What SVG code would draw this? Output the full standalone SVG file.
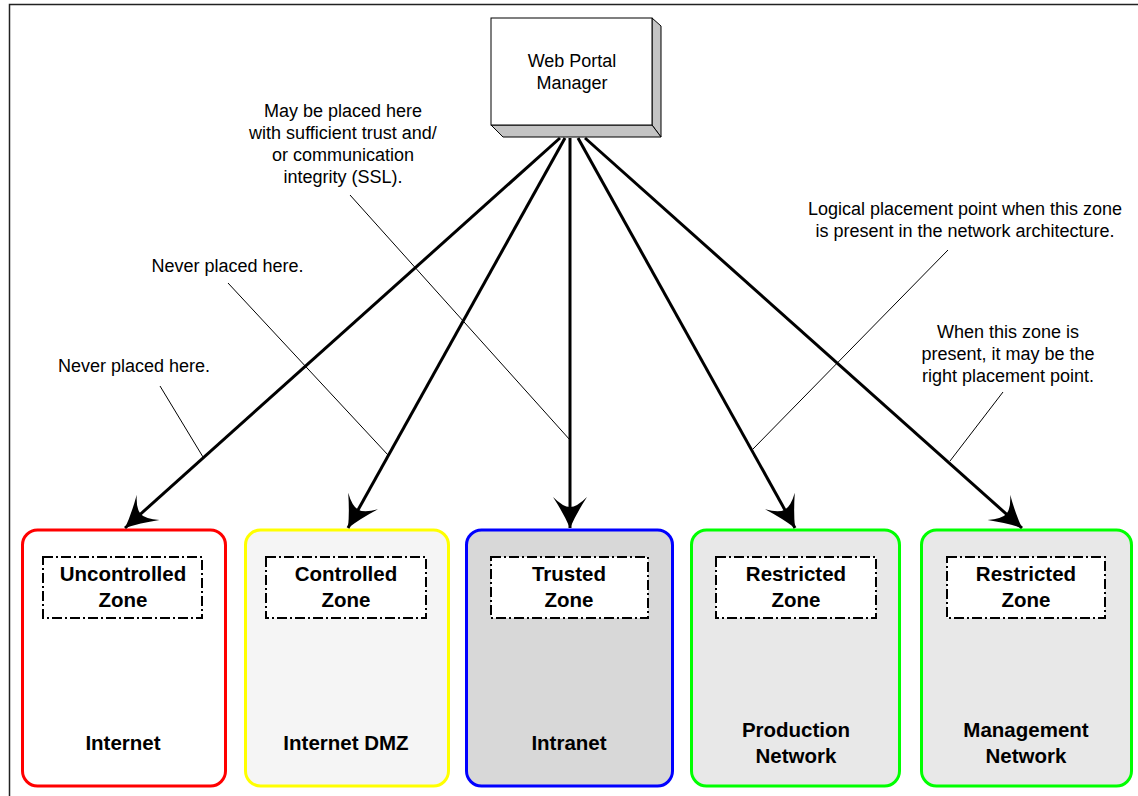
<svg xmlns="http://www.w3.org/2000/svg" width="1138" height="796" viewBox="0 0 1138 796">
  <style>
    text { font-family: "Liberation Sans", Arial, Helvetica, sans-serif; fill: #000; }
    .note { font-size: 18px; text-anchor: middle; }
    .label { font-size: 20.5px; font-weight: bold; text-anchor: middle; }
    .zone { stroke-width: 3; }
    .tag { fill: #fff; stroke: #000; stroke-width: 2; stroke-dasharray: 10 3 2 3; }
    .link { stroke: #000; stroke-width: 3; fill: none; marker-end: url(#barb); }
    .callout { stroke: #000; stroke-width: 1; fill: none; }
  </style>
  <defs>
    <marker id="barb" markerUnits="userSpaceOnUse" markerWidth="40" markerHeight="40" viewBox="-34 -20 38 40" refX="0" refY="0" orient="auto">
      <path d="M0,0 Q-14,-6 -31,-17 Q-21,-7 -21,0 Q-21,7 -31,17 Q-14,6 0,0 Z" fill="#000"/>
    </marker>
  </defs>

  <rect width="1138" height="796" fill="#fff"/>
  <!-- frame -->
  <path d="M9.5,796 V4.5 H1138" fill="none" stroke="#222" stroke-width="1.5"/>

  <!-- manager box -->
  <g id="web-portal-manager">
    <polygon points="652,18 661,26 661,137 652,125" fill="#c4c4c4" stroke="#000" stroke-width="1"/>
    <polygon points="491,125 503,137 661,137 652,125" fill="#c4c4c4" stroke="#000" stroke-width="1"/>
    <rect x="491" y="18" width="161" height="107" fill="#fff" stroke="#000" stroke-width="1"/>
    <text class="note" x="572" y="67">Web Portal</text>
    <text class="note" x="572" y="89">Manager</text>
  </g>

  <!-- zones -->
  <g id="zone-internet">
    <rect class="zone" x="22.5" y="530" width="203" height="256" rx="15" fill="#fff" stroke="#ff0000"/>
    <rect class="tag" x="43" y="557" width="159" height="61"/>
    <text class="label" x="123" y="581">Uncontrolled</text>
    <text class="label" x="123" y="607">Zone</text>
    <text class="label" x="123" y="750">Internet</text>
  </g>
  <g id="zone-dmz">
    <rect class="zone" x="245.5" y="530" width="203" height="256" rx="15" fill="#f5f5f5" stroke="#ffff00"/>
    <rect class="tag" x="266" y="557" width="160" height="61"/>
    <text class="label" x="346" y="581">Controlled</text>
    <text class="label" x="346" y="607">Zone</text>
    <text class="label" x="346" y="750">Internet DMZ</text>
  </g>
  <g id="zone-intranet">
    <rect class="zone" x="466.5" y="530" width="206" height="256" rx="15" fill="#d8d8d8" stroke="#0000ff"/>
    <rect class="tag" x="491" y="557" width="157" height="61"/>
    <text class="label" x="569" y="581">Trusted</text>
    <text class="label" x="569" y="607">Zone</text>
    <text class="label" x="569" y="750">Intranet</text>
  </g>
  <g id="zone-production">
    <rect class="zone" x="691.5" y="530" width="208" height="256" rx="15" fill="#e8e8e8" stroke="#00ff00"/>
    <rect class="tag" x="716" y="557" width="160" height="61"/>
    <text class="label" x="796" y="581">Restricted</text>
    <text class="label" x="796" y="607">Zone</text>
    <text class="label" x="796" y="737">Production</text>
    <text class="label" x="796" y="763">Network</text>
  </g>
  <g id="zone-management">
    <rect class="zone" x="921.5" y="530" width="210" height="256" rx="15" fill="#e8e8e8" stroke="#00ff00"/>
    <rect class="tag" x="947" y="557" width="158" height="61"/>
    <text class="label" x="1026" y="581">Restricted</text>
    <text class="label" x="1026" y="607">Zone</text>
    <text class="label" x="1026" y="737">Management</text>
    <text class="label" x="1026" y="763">Network</text>
  </g>

  <!-- notes -->
  <g id="notes">
    <text class="note" x="343" y="117">May be placed here</text>
    <text class="note" x="343" y="139">with sufficient trust and/</text>
    <text class="note" x="343" y="161">or communication</text>
    <text class="note" x="343" y="183">integrity (SSL).</text>
    <text class="note" x="227.5" y="272">Never placed here.</text>
    <text class="note" x="134" y="372">Never placed here.</text>
    <text class="note" x="965" y="215">Logical placement point when this zone</text>
    <text class="note" x="965" y="237">is present in the network architecture.</text>
    <text class="note" x="1008" y="338">When this zone is</text>
    <text class="note" x="1008" y="360">present, it may be the</text>
    <text class="note" x="1008" y="382">right placement point.</text>
  </g>

  <!-- connectors -->
  <g id="connectors">
    <line class="link" x1="560" y1="138" x2="125" y2="528"/>
    <line class="link" x1="565" y1="138" x2="348" y2="528"/>
    <line class="link" x1="570" y1="138" x2="570" y2="528"/>
    <line class="link" x1="578" y1="138" x2="795" y2="528"/>
    <line class="link" x1="585" y1="138" x2="1022" y2="528"/>
    <line class="callout" x1="160" y1="386" x2="203" y2="457"/>
    <line class="callout" x1="228" y1="283" x2="388" y2="455"/>
    <line class="callout" x1="350" y1="195" x2="570" y2="440"/>
    <line class="callout" x1="948" y1="250" x2="753" y2="449"/>
    <line class="callout" x1="1003" y1="392" x2="950" y2="461"/>
  </g>
</svg>
